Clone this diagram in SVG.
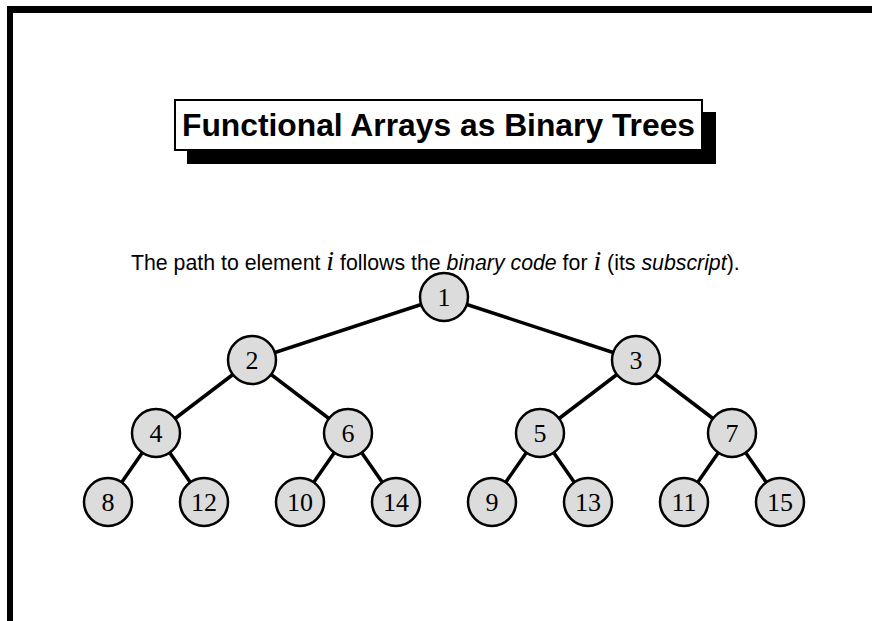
<svg xmlns="http://www.w3.org/2000/svg" width="872" height="621" viewBox="0 0 872 621">
<style>
.edge{stroke:#000;stroke-width:3.5;stroke-linecap:round}
.node circle{fill:#dcdcdc;stroke:#000;stroke-width:2.5}
.node text{font-family:"Liberation Serif","Times New Roman",serif;font-size:26px;text-anchor:middle;dominant-baseline:central;fill:#000}
.sans{font-family:"Liberation Sans",Arial,sans-serif}
.ital{font-style:italic}
.mi{font-family:"Liberation Serif","Times New Roman",serif;font-style:italic;font-size:28px}
</style>
<rect x="0" y="0" width="872" height="621" fill="#fff"/>
<g id="frame">
<rect x="7" y="6" width="865" height="7" fill="#000"/>
<rect x="7" y="6" width="6" height="615" fill="#000"/>
</g>
<g id="title">
<rect x="187" y="112" width="529" height="52" fill="#000"/>
<rect x="175" y="100" width="527" height="50" fill="#fff" stroke="#000" stroke-width="2"/>
<text x="438.5" y="136" class="sans" font-size="31.8" font-weight="bold" text-anchor="middle">Functional Arrays as Binary Trees</text>
</g>
<text id="subtitle" x="131" y="270" class="sans" font-size="21.3">The path to element <tspan class="mi">i</tspan> follows the <tspan class="ital">binary code</tspan> for <tspan class="mi">i</tspan> (its <tspan class="ital">subscript</tspan>).</text>
<g id="connectors">
<line class="edge" x1="444" y1="297" x2="252" y2="360"/>
<line class="edge" x1="444" y1="297" x2="636" y2="360"/>
<line class="edge" x1="252" y1="360" x2="156" y2="433"/>
<line class="edge" x1="252" y1="360" x2="348" y2="433"/>
<line class="edge" x1="636" y1="360" x2="540" y2="433"/>
<line class="edge" x1="636" y1="360" x2="732" y2="433"/>
<line class="edge" x1="156" y1="433" x2="108" y2="502"/>
<line class="edge" x1="156" y1="433" x2="204" y2="502"/>
<line class="edge" x1="348" y1="433" x2="300" y2="502"/>
<line class="edge" x1="348" y1="433" x2="396" y2="502"/>
<line class="edge" x1="540" y1="433" x2="492" y2="502"/>
<line class="edge" x1="540" y1="433" x2="588" y2="502"/>
<line class="edge" x1="732" y1="433" x2="684" y2="502"/>
<line class="edge" x1="732" y1="433" x2="780" y2="502"/>
</g>
<g id="n1" class="node"><circle cx="444" cy="297" r="24"/><text x="444" y="297">1</text></g>
<g id="n2" class="node"><circle cx="252" cy="360" r="24"/><text x="252" y="360">2</text></g>
<g id="n3" class="node"><circle cx="636" cy="360" r="24"/><text x="636" y="360">3</text></g>
<g id="n4" class="node"><circle cx="156" cy="433" r="24"/><text x="156" y="433">4</text></g>
<g id="n6" class="node"><circle cx="348" cy="433" r="24"/><text x="348" y="433">6</text></g>
<g id="n5" class="node"><circle cx="540" cy="433" r="24"/><text x="540" y="433">5</text></g>
<g id="n7" class="node"><circle cx="732" cy="433" r="24"/><text x="732" y="433">7</text></g>
<g id="n8" class="node"><circle cx="108" cy="502" r="24"/><text x="108" y="502">8</text></g>
<g id="n12" class="node"><circle cx="204" cy="502" r="24"/><text x="204" y="502">12</text></g>
<g id="n10" class="node"><circle cx="300" cy="502" r="24"/><text x="300" y="502">10</text></g>
<g id="n14" class="node"><circle cx="396" cy="502" r="24"/><text x="396" y="502">14</text></g>
<g id="n9" class="node"><circle cx="492" cy="502" r="24"/><text x="492" y="502">9</text></g>
<g id="n13" class="node"><circle cx="588" cy="502" r="24"/><text x="588" y="502">13</text></g>
<g id="n11" class="node"><circle cx="684" cy="502" r="24"/><text x="684" y="502">11</text></g>
<g id="n15" class="node"><circle cx="780" cy="502" r="24"/><text x="780" y="502">15</text></g>
</svg>
